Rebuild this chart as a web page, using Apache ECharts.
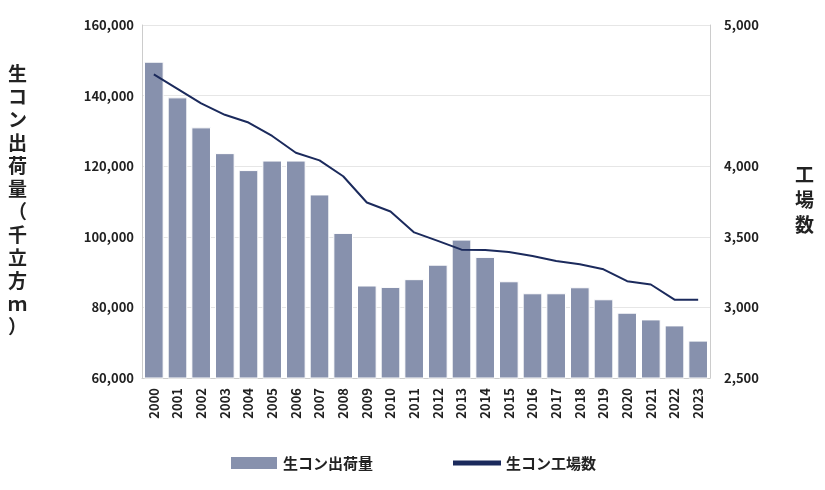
<!DOCTYPE html>
<html><head><meta charset="utf-8">
<script src="https://cdn.jsdelivr.net/npm/echarts@6/dist/echarts.min.js"></script>
<style>html,body{margin:0;background:#fff}#c{width:825px;height:490px}</style>
</head><body><div id="c"></div>
<script>
var years = ['2000','2001','2002','2003','2004','2005','2006','2007','2008','2009','2010','2011','2012','2013','2014','2015','2016','2017','2018','2019','2020','2021','2022','2023'];
var shipments = [149600,139500,131000,123700,118900,121600,121600,112000,101100,86200,85800,88000,92100,99200,94300,87400,84000,84000,85700,82300,78500,76600,74900,70600];
var plants = [4650,4548,4445,4364,4309,4214,4095,4041,3929,3743,3679,3531,3471,3409,3407,3393,3364,3329,3305,3270,3186,3162,3055,3055];

var font = '"Noto Sans CJK JP", "Noto Sans", sans-serif';
var chart = echarts.init(document.getElementById('c'));
chart.setOption({
  textStyle: {fontFamily: font},
  animation: false,
  grid: {left: 142, right: 115, top: 25, bottom: 112},
  legend: {
    bottom: 14, left: 'center', itemGap: 80, itemWidth: 48, itemHeight: 14,
    textStyle: {fontSize: 15, fontWeight: 'bold', color: '#222', fontFamily: font},
    data: [{name: '生コン出荷量', icon: 'rect'}, {name: '生コン工場数', icon: 'path://M0,0 L10,0 L10,1 L0,1 Z'}]
  },
  graphic: [
    {type: 'text', left: 8, top: 62, style: {text: '生\nコ\nン\n出\n荷\n量\n（\n千\n立\n方\nｍ\n）', fontSize: 19, fontWeight: 'bold', lineHeight: 23, fill: '#222', fontFamily: font}},
    {type: 'text', left: 795, top: 162, style: {text: '工\n場\n数', fontSize: 19, fontWeight: 'bold', lineHeight: 25, fill: '#222', fontFamily: font}}
  ],
  xAxis: {
    type: 'category', data: years,
    axisLine: {lineStyle: {color: '#ccc'}}, axisTick: {show: false},
    axisLabel: {rotate: 90, fontSize: 13, fontWeight: 'bold', color: '#222', margin: 10}
  },
  yAxis: [{
    type: 'value', min: 60000, max: 160000, interval: 20000,
    axisLine: {show: true, lineStyle: {color: '#ccc'}},
    axisLabel: {fontSize: 13, fontWeight: 'bold', color: '#222', formatter: function(v){return v.toLocaleString('en-US');}},
    splitLine: {lineStyle: {color: '#e6e6e6'}}
  }, {
    type: 'value', min: 2500, max: 5000, interval: 500,
    axisLine: {show: true, lineStyle: {color: '#ccc'}},
    axisLabel: {fontSize: 13, fontWeight: 'bold', color: '#222', margin: 14,
      formatter: function(v){return (v === 4500) ? '' : v.toLocaleString('en-US');}},
    splitLine: {show: false}
  }],
  series: [{
    name: '生コン出荷量', type: 'bar', data: shipments, barCategoryGap: '17%',
    itemStyle: {color: '#8791ad', borderColor: '#fff', borderWidth: 1}
  }, {
    name: '生コン工場数', type: 'line', yAxisIndex: 1, data: plants,
    symbol: 'none', lineStyle: {color: '#1b2a5c', width: 2}, itemStyle: {color: '#1b2a5c'}
  }]
});
</script></body></html>
